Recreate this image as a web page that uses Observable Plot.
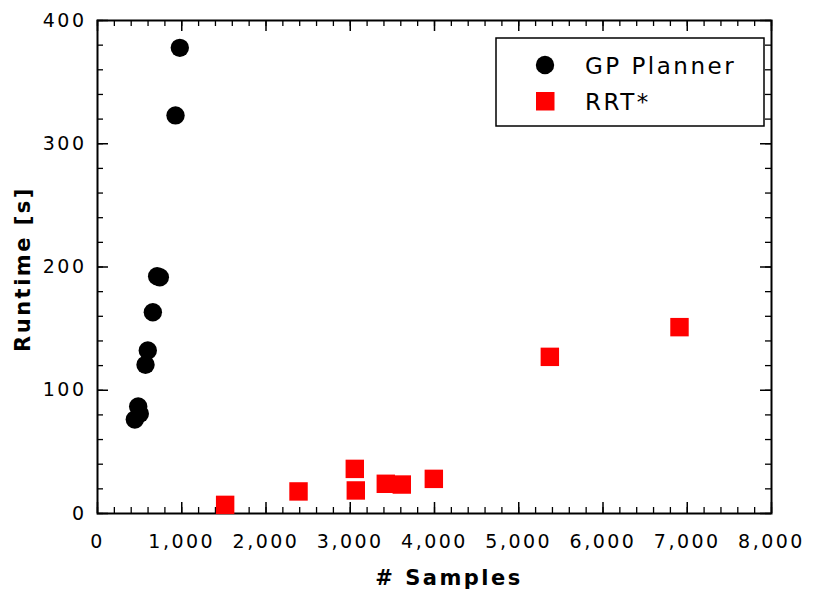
<!DOCTYPE html>
<html><head><meta charset="utf-8">
<script src="https://cdn.jsdelivr.net/npm/d3@7"></script>
<script src="https://cdn.jsdelivr.net/npm/@observablehq/plot@0.6"></script>
<style>
body{margin:0;background:#fff;}
#chart{position:relative;width:824px;height:594px;}
svg text{font-family:"DejaVu Sans",sans-serif;}
</style></head><body><div id="chart"></div>
<script>
const gpSamples = [977, 926, 708, 740, 657, 597, 570, 483, 502, 443];
const gpRuntime = [377.8, 323, 192.5, 191.7, 163.3, 132.3, 120.6, 86.8, 80.9, 76.3];
const rrtSamples = [1515, 2386, 3054, 3066, 3422, 3612, 3992, 5369, 6908];
const rrtRuntime = [7, 17.9, 36.2, 18.7, 24.1, 23.5, 28.1, 127.1, 151.2];
const xMajor = [0, 1000, 2000, 3000, 4000, 5000, 6000, 7000, 8000];
const xMinor = d3.range(0, 8001, 200);
const yMajor = [0, 100, 200, 300, 400];
const yMinor = d3.range(0, 401, 20);
const seriesNames = ["GP Planner", "RRT*"];
const xTitle = "# Samples";
const yTitle = "Runtime [s]";

const gp = gpSamples.map((x, i) => ({x, y: gpRuntime[i]}));
const rrt = rrtSamples.map((x, i) => ({x, y: rrtRuntime[i]}));

const W = 824, H = 594, mL = 97, mR = 53, mT = 20, mB = 81;
const pW = W - mL - mR, pH = H - mT - mB;

const chart = Plot.plot({
  width: W, height: H,
  marginLeft: mL, marginRight: mR, marginTop: mT, marginBottom: mB,
  style: {fontSize: "19px", letterSpacing: "2.5px", color: "black", background: "white", fontFamily: "DejaVu Sans"},
  x: {domain: [0, 8000]},
  y: {domain: [0, 400]},
  marks: [
    Plot.ruleX(xMinor, {x: d => d, insetTop: pH - 6, stroke: "black", strokeWidth: 1.3}),
    Plot.ruleX(xMinor, {x: d => d, insetBottom: pH - 6, stroke: "black", strokeWidth: 1.3}),
    Plot.ruleX(xMajor, {x: d => d, insetTop: pH - 11, stroke: "black", strokeWidth: 1.5}),
    Plot.ruleX(xMajor, {x: d => d, insetBottom: pH - 11, stroke: "black", strokeWidth: 1.5}),
    Plot.ruleY(yMinor, {y: d => d, insetRight: pW - 6, stroke: "black", strokeWidth: 1.3}),
    Plot.ruleY(yMinor, {y: d => d, insetLeft: pW - 6, stroke: "black", strokeWidth: 1.3}),
    Plot.ruleY(yMajor, {y: d => d, insetRight: pW - 11, stroke: "black", strokeWidth: 1.5}),
    Plot.ruleY(yMajor, {y: d => d, insetLeft: pW - 11, stroke: "black", strokeWidth: 1.5}),
    Plot.frame({stroke: "black", strokeWidth: 2}),
    Plot.axisX({ticks: xMajor, tickSize: 0, tickPadding: 21, tickFormat: d3.format(","), label: null}),
    Plot.axisY({ticks: yMajor, tickSize: 0, tickPadding: 11, label: null}),
    Plot.dot(rrt, {x: "x", y: "y", symbol: "square", r: 10.4, fill: "#ff0000", stroke: "none"}),
    Plot.dot(gp, {x: "x", y: "y", symbol: "circle", r: 9.2, fill: "black", stroke: "none"})
  ]
});
document.getElementById("chart").appendChild(chart);

const svg = d3.select(chart);
svg.append("text").text(xTitle)
  .attr("x", 449).attr("y", 579).attr("text-anchor", "middle").attr("dominant-baseline", "middle")
  .style("font-size", "21px").style("font-weight", "bold").style("letter-spacing", "2.5px");
svg.append("text").text(yTitle)
  .attr("transform", "translate(24,269) rotate(-90)").attr("text-anchor", "middle").attr("dominant-baseline", "middle")
  .style("font-size", "21px").style("font-weight", "bold").style("letter-spacing", "2.5px");

const lg = svg.append("g");
lg.append("rect").attr("x", 496).attr("y", 38).attr("width", 268).attr("height", 88)
  .attr("fill", "white").attr("stroke", "black").attr("stroke-width", 1.5);
lg.append("circle").attr("cx", 545).attr("cy", 65).attr("r", 9.2).attr("fill", "black");
lg.append("rect").attr("x", 536).attr("y", 92).attr("width", 18.5).attr("height", 18.5).attr("fill", "#ff0000");
lg.append("text").text(seriesNames[0]).attr("x", 585).attr("y", 67).attr("text-anchor", "start").attr("dominant-baseline", "middle")
  .style("font-size", "23px").style("letter-spacing", "2.5px");
lg.append("text").text(seriesNames[1]).attr("x", 585).attr("y", 103).attr("text-anchor", "start").attr("dominant-baseline", "middle")
  .style("font-size", "23px").style("letter-spacing", "2.5px");
</script></body></html>
